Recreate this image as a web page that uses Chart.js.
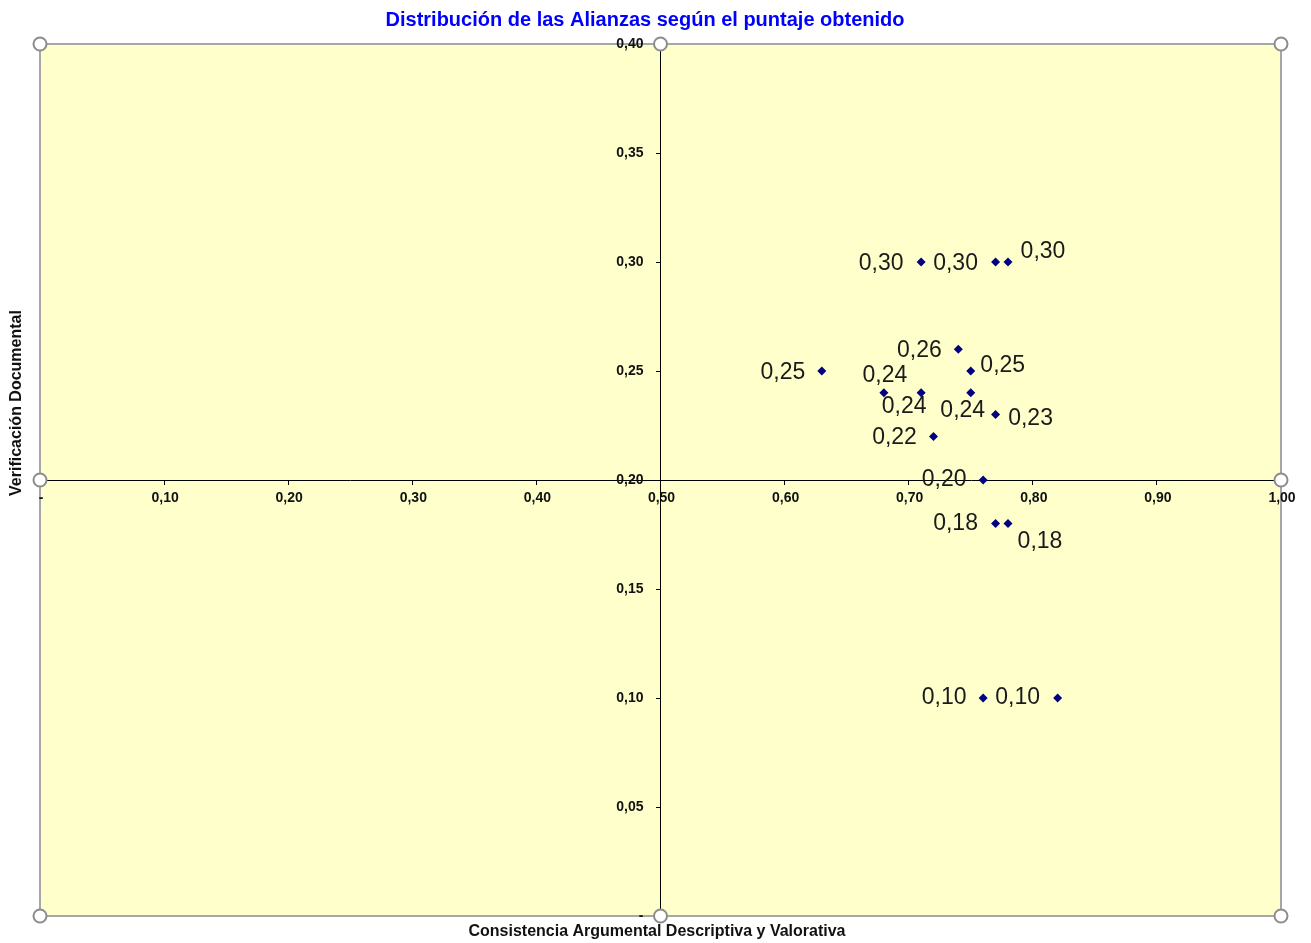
<!DOCTYPE html>
<html lang="es">
<head>
<meta charset="UTF-8">
<title>Distribución de las Alianzas</title>
<script src="https://cdn.jsdelivr.net/npm/chart.js@4.4.0/dist/chart.umd.min.js"></script>
<style>
  * { margin: 0; padding: 0; }
  body { background: #fff; }
  canvas { display: block; }
</style>
</head>
<body>
<canvas id="myChart" width="1311" height="943"></canvas>
<script>
// puntaje de cada alianza
var consistencia = [0.71, 0.77, 0.78, 0.74, 0.63, 0.75, 0.68, 0.71, 0.75, 0.77, 0.72, 0.76, 0.77, 0.78, 0.76, 0.82];
var verificacion = [0.30, 0.30, 0.30, 0.26, 0.25, 0.25, 0.24, 0.24, 0.24, 0.23, 0.22, 0.20, 0.18, 0.18, 0.10, 0.10];

var xTickLabels = ['-', '0,10', '0,20', '0,30', '0,40', '0,50', '0,60', '0,70', '0,80', '0,90', '1,00'];
var yTickLabels = ['-', '0,05', '0,10', '0,15', '0,20', '0,25', '0,30', '0,35', '0,40'];

// where each value label sits relative to its point (dx, dy)
var labelOffsets = [[-40, 2], [-40, 2], [35, -10], [-39, 1], [-39, 2], [32, -5], [1, -17], [-17, 14],
                    [-8, 18], [35, 4], [-39, 1], [-39, 0], [-40, 0], [32, 18], [-39, 0], [-40, 0]];

var FONT = '"Liberation Sans", Arial, sans-serif';

var excelLook = {
    id: 'excelLook',
    beforeDraw: function (chart) {
        var ctx = chart.ctx, a = chart.chartArea;
        ctx.save();
        ctx.fillStyle = '#FFFFCC';
        ctx.fillRect(a.left, a.top, a.right - a.left, a.bottom - a.top);
        ctx.strokeStyle = '#A6A6A6';
        ctx.lineWidth = 2;
        ctx.strokeRect(a.left, a.top, a.right - a.left, a.bottom - a.top);
        ctx.restore();
    },
    afterDatasetsDraw: function (chart) {
        var ctx = chart.ctx;
        var pts = chart.getDatasetMeta(0).data;
        ctx.save();
        ctx.font = '23px ' + FONT;
        ctx.fillStyle = '#1A1A1A';
        ctx.textAlign = 'center';
        ctx.textBaseline = 'middle';
        pts.forEach(function (p, i) {
            var txt = verificacion[i].toFixed(2).replace('.', ',');
            ctx.fillText(txt, p.x + labelOffsets[i][0], p.y + labelOffsets[i][1]);
        });
        ctx.restore();
    },
    afterDraw: function (chart) {
        var ctx = chart.ctx, a = chart.chartArea;
        var xs = chart.scales.x, ys = chart.scales.y;
        var axisY = ys.getPixelForValue(0.2), axisX = xs.getPixelForValue(0.5);

        // tick labels next to the crossing axes
        ctx.save();
        ctx.fillStyle = '#111';
        ctx.font = 'bold 14px ' + FONT;
        ctx.textBaseline = 'middle';
        ctx.textAlign = 'center';
        xs.ticks.forEach(function (t, i) {
            ctx.fillText(xTickLabels[i], xs.getPixelForValue(t.value) + 1, axisY + 18);
        });
        ctx.textAlign = 'right';
        ys.ticks.forEach(function (t, i) {
            ctx.fillText(yTickLabels[i], axisX - 17, ys.getPixelForValue(t.value));
        });
        ctx.restore();

        // titles
        ctx.save();
        ctx.fillStyle = '#0000FF';
        ctx.font = 'bold 20px ' + FONT;
        ctx.textAlign = 'center';
        ctx.textBaseline = 'middle';
        ctx.fillText('Distribución de las Alianzas según el puntaje obtenido', 645, 20);
        ctx.fillStyle = '#111';
        ctx.font = 'bold 16px ' + FONT;
        ctx.fillText('Consistencia Argumental Descriptiva y Valorativa', 657, 932);
        ctx.translate(17, 403);
        ctx.rotate(-Math.PI / 2);
        ctx.fillText('Verificación Documental', 0, 0);
        ctx.restore();

        // selection handles
        var mx = (a.left + a.right) / 2, my = (a.top + a.bottom) / 2;
        var hs = [[a.left, a.top], [mx, a.top], [a.right, a.top], [a.left, my], [a.right, my],
                  [a.left, a.bottom], [mx, a.bottom], [a.right, a.bottom]];
        ctx.save();
        ctx.fillStyle = '#fff';
        ctx.strokeStyle = '#8C8C8C';
        ctx.lineWidth = 2;
        hs.forEach(function (h) {
            ctx.beginPath();
            ctx.arc(h[0], h[1], 6.5, 0, Math.PI * 2);
            ctx.fill();
            ctx.stroke();
        });
        ctx.restore();
    }
};

var ctx = document.getElementById('myChart').getContext('2d');
new Chart(ctx, {
    type: 'scatter',
    data: {
        datasets: [{
            label: 'Alianzas',
            data: consistencia.map(function (x, i) { return { x: x, y: verificacion[i] }; }),
            pointStyle: 'rectRot',
            pointRadius: 4.5,
            pointHoverRadius: 4.5,
            backgroundColor: '#000080',
            borderColor: '#000080',
            borderWidth: 0
        }]
    },
    options: {
        responsive: false,
        animation: false,
        layout: { padding: { left: 40, top: 44, right: 30, bottom: 27 } },
        plugins: {
            legend: { display: false },
            title: { display: false },
            tooltip: { enabled: false }
        },
        scales: {
            x: {
                type: 'linear',
                min: 0,
                max: 1,
                position: { y: 0.2 },
                grid: { display: true, drawOnChartArea: false, drawTicks: true, tickLength: 4, color: '#000' },
                border: { display: true, color: '#000', width: 1 },
                ticks: { stepSize: 0.1, autoSkip: false, display: false }
            },
            y: {
                type: 'linear',
                min: 0,
                max: 0.4,
                position: { x: 0.5 },
                grid: { display: true, drawOnChartArea: false, drawTicks: true, tickLength: 4, color: '#000' },
                border: { display: true, color: '#000', width: 1 },
                ticks: { stepSize: 0.05, autoSkip: false, display: false }
            }
        }
    },
    plugins: [excelLook]
});
</script>
</body>
</html>
